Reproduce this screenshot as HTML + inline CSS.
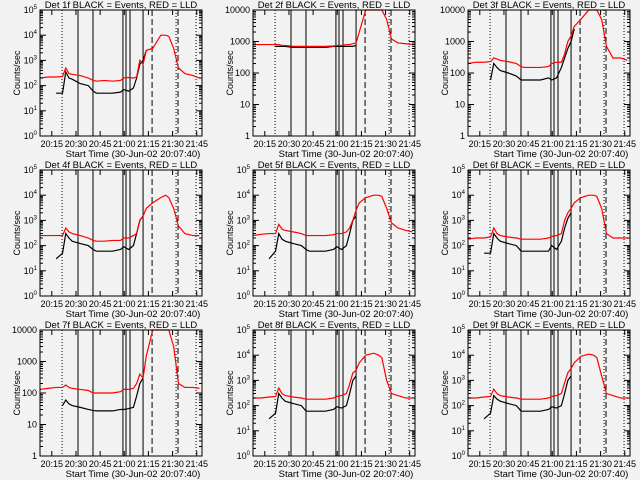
<!DOCTYPE html>
<html><head><meta charset="utf-8"><style>
body{margin:0;background:#f2f2f2}
svg{display:block;font-family:"Liberation Sans",sans-serif}
</style></head><body>
<svg id="c" width="640" height="480" viewBox="0 0 640 480">
<rect width="640" height="480" fill="#f2f2f2"/>
</svg>
<script>
const times=[0,5,10,14,16,18,20,25,30,33,35,40,45,50,52,55,58,60,62,64,66,70,75,78,80,83,86,90,95,99];
const panelNames=["1f","2f","3f","4f","5f","6f","7f","8f","9f"];
const panelDecades=[5,4,4,5,5,5,4,5,5];
const red1=[200,220,220,230,500,300,280,250,200,160,150,160,150,160,200,210,200,220,1000,700,2500,3000,10000,10000,9000,3000,500,300,250,200];
const black1=[null,null,50,50,350,200,180,120,100,60,50,50,50,55,70,60,80,200,700,1000,2500];
const red2=[800,800,800,800,800,750,750,700,700,700,700,700,700,720,750,750,800,800,850,900,2000,12000,12000,12000,12000,5000,1200,900,850,800];
const black2=[null,null,null,700,700,700,700,650,650,650,650,650,650,700,700,700,700,700,700,750];
const red3=[200,220,220,230,300,280,250,230,200,160,150,150,150,160,200,220,220,400,1000,1500,3000,5000,10000,10000,10000,5000,700,300,300,250];
const black3=[null,null,null,60,200,150,120,100,80,60,60,60,60,70,60,70,150,300,600,1000,2500];
const red4=[250,250,250,250,500,350,300,250,200,160,150,150,160,160,200,200,250,300,1000,1500,3000,5000,8000,10000,8000,3000,600,300,250,250];
const black4=[null,null,30,50,300,200,150,120,100,70,60,60,60,70,90,70,100,300,1000,1500];
const red5=[250,280,300,300,700,450,400,350,300,250,250,250,250,270,300,300,350,500,1000,2500,5000,8000,10000,10000,9000,3000,800,500,400,350];
const black5=[null,null,30,60,300,180,150,120,100,70,60,60,60,70,90,70,100,300,1000,1500];
const red6=[180,200,200,220,500,300,250,220,200,180,180,180,180,200,230,250,300,1000,2000,3000,5000,8000,10000,10000,9000,3000,300,200,200,200];
const black6=[null,null,50,50,300,200,150,120,100,60,60,60,60,60,100,70,150,500,1200,2000];
const red7=[130,140,150,150,180,150,140,130,120,100,100,100,100,110,130,130,140,200,400,300,1500,10000,10000,10000,10000,3000,200,150,150,140];
const black7=[null,null,null,40,60,45,40,35,30,28,27,27,27,30,30,32,35,80,200,300];
const red8=[200,200,220,230,500,300,250,220,200,180,180,180,180,200,230,250,300,700,2000,2500,5000,10000,12000,10000,8000,1000,300,250,200,200];
const black8=[null,null,30,50,300,200,150,120,100,60,60,60,60,70,90,80,100,300,1000,1500];
const red9=[200,200,220,230,450,300,250,220,200,180,180,180,180,200,230,250,300,800,2000,3000,5000,9000,11000,10000,8000,1500,300,250,200,200];
const black9=[null,null,30,50,250,180,150,120,100,60,60,60,60,70,90,80,100,300,1000,1500];
const reds=[red1,red2,red3,red4,red5,red6,red7,red8,red9];
const blacks=[black1,black2,black3,black4,black5,black6,black7,black8,black9];
const tickLabels=["20:15","20:30","20:45","21:00","21:15","21:30","21:45"];
const tickTimes=[7.33,22.33,37.33,52.33,67.33,82.33,97.33];
const markerTimes=[13.7,23.6,32.9,51.5,53.4,55.9,64,69.6,84.5,85.7,96.9];
const markerStyles=["dot","solid","solid","solid","solid","solid","solid","dash","dot","dash","dot"];

const NS="http://www.w3.org/2000/svg";
const svg=document.getElementById('c');
function mk(tag,attrs,parent){const e=document.createElementNS(NS,tag);for(const k in attrs)e.setAttribute(k,attrs[k]);(parent||svg).appendChild(e);return e;}
const colX=[40,253,468],rowY=[10,170,330],W=162,H=126,TMAX=100.6;
for(let p=0;p<9;p++){
  const x0=colX[p%3],y0=rowY[Math.floor(p/3)],dec=panelDecades[p];
  const g=mk('g',{});
  
  
  const xs=t=>x0+t/TMAX*W;
  const ys=v=>{let l=Math.log10(Math.max(v,1));l=Math.min(l,dec);return y0+H-l/dec*H;};
  markerTimes.forEach((t,i)=>{
    const st=markerStyles[i];
    const ln=mk('line',{x1:xs(t),x2:xs(t),y1:y0,y2:y0+H,stroke:'#000','stroke-width':1,'stroke-dasharray':st=='dot'?'1 2':st=='dash'?'6 3':'none'},g);
    
    
  });
  function path(arr,color,name){
    let d='',pen=false;
    arr.forEach((v,i)=>{
      if(v==null){pen=false;return;}
      const X=xs(times[i]),Y=ys(v);
      if(!pen){d+='M'+X+' '+Y;pen=true;}else{d+='L'+X+' '+Y;}
    });
    const e=mk('path',{d:d,fill:'none',stroke:color,'stroke-width':1.2},g);
    
    
  }
  path(blacks[p],'#000','events-series');
  path(reds[p],'#ff0000','lld-series');
  const bx=mk('rect',{x:x0,y:y0,width:W,height:H,fill:'none',stroke:'#000','stroke-width':1},g);
  
  
  tickTimes.forEach((t,i)=>{
    mk('line',{x1:xs(t),x2:xs(t),y1:y0+H,y2:y0+H-5,stroke:'#000'},g);
    mk('line',{x1:xs(t),x2:xs(t),y1:y0,y2:y0+5,stroke:'#000'},g);
    const tx=mk('text',{x:xs(t),y:y0+H+11,'font-size':9,'text-anchor':'middle'},g);
    tx.textContent=tickLabels[i];
    
    
  });
  for(let d=0;d<=dec;d++){
    const Y=y0+H-d/dec*H;
    mk('line',{x1:x0,x2:x0+6,y1:Y,y2:Y,stroke:'#000'},g);
    mk('line',{x1:x0+W,x2:x0+W-6,y1:Y,y2:Y,stroke:'#000'},g);
    if(d<dec)for(let m=2;m<10;m++){const Ym=Y-Math.log10(m)/dec*H;mk('line',{x1:x0,x2:x0+3,y1:Ym,y2:Ym,stroke:'#000'},g);mk('line',{x1:x0+W,x2:x0+W-3,y1:Ym,y2:Ym,stroke:'#000'},g);}
    const tx=mk('text',{x:x0-3,y:Y+3,'font-size':9,'text-anchor':'end'},g);
    
    
    if(dec==4){tx.textContent=String(Math.pow(10,d));}
    else{tx.textContent='10';const s=mk('tspan',{dy:-4,'font-size':6},tx);s.textContent=String(d);}
  }
  const tt=mk('text',{x:x0+W/2,y:y0-2,'font-size':9.5,'text-anchor':'middle'},g);
  tt.textContent='Det '+panelNames[p]+' BLACK = Events, RED = LLD';
  
  
  const xl=mk('text',{x:x0+W/2+12,y:y0+H+21,'font-size':9.5,'text-anchor':'middle'},g);
  xl.textContent='Start Time (30-Jun-02 20:07:40)';
  
  
  const yl=mk('text',{x:0,y:0,'font-size':9,'text-anchor':'middle',transform:'translate('+(x0-20)+','+(y0+H/2)+') rotate(-90)'},g);
  yl.textContent='Counts/sec';
  
  
}
</script>
</body></html>
